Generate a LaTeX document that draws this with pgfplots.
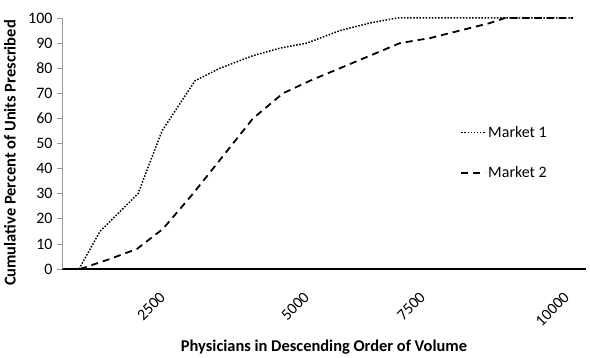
\documentclass[border=0pt]{standalone}
\usepackage{pgfplots}
\pgfplotsset{compat=1.18}
\usepackage{fontspec}
\setmainfont{Carlito}
\begin{document}
\begin{tikzpicture}
\useasboundingbox (0bp,0bp) rectangle (590bp,358bp);
\begin{axis}[
  at={(62bp,89bp)}, anchor=south west,
  scale only axis, width=524bp, height=251bp,
  xmin=62, xmax=586, ymin=0, ymax=100,
  clip=false,
  axis lines=left,
  x axis line style={black, line width=1.2bp, -},
  y axis line style={gray!80, line width=0.7bp, -},
  xtick={165,309,425,569},
  xticklabels={2500,5000,7500,10000},
  xtick style={draw=none},
  xticklabel style={rotate=45, anchor=east, yshift=-13bp, xshift=-13bp},
  ytick={0,10,...,100},
  ytick style={gray!80, line width=0.7bp},
  tick align=outside,
  major tick length=5bp,
  yticklabel style={xshift=-1bp},
  /pgf/number format/assume math mode=true,
  /pgf/number format/1000 sep={},
  tick label style={font=\fontsize{16}{18}\selectfont},
  xlabel={Physicians in Descending Order of Volume},
  ylabel={Cumulative Percent of Units Prescribed},
  label style={font=\bfseries\fontsize{16.5}{18}\selectfont},
  xlabel style={at={(axis cs:324,-31)}, anchor=center},
  ylabel style={at={(axis cs:10,46.2)}, anchor=center},
  legend style={draw=none, fill=none, at={(0.76,0.578)}, anchor=north west,
    row sep=24bp, font=\fontsize{16}{18}\selectfont, inner sep=0pt},
  legend cell align=left,
  legend image code/.code={\draw[#1] (0bp,0bp) -- (24bp,0bp);},
]
\addplot[black, line width=1.5bp, dash pattern=on 1.5bp off 1.6bp] coordinates {
(79,0) (100,15) (138,30) (162,55) (195,75) (220,80) (253,85) (280,88) (307,90)
(340,95) (370,98) (397,100) (573,100)};
\addlegendentry{Market 1}
\addplot[black, line width=1.8bp, dash pattern=on 7bp off 5bp] coordinates {
(80,0) (110,4) (137,8) (163,16) (193,30) (223,45) (253,60) (283,70) (310,75)
(340,80) (370,85) (400,90) (430,92) (460,95) (490,98) (505,100) (573,100)};
\addlegendentry{Market 2}
\end{axis}
\end{tikzpicture}
\end{document}
